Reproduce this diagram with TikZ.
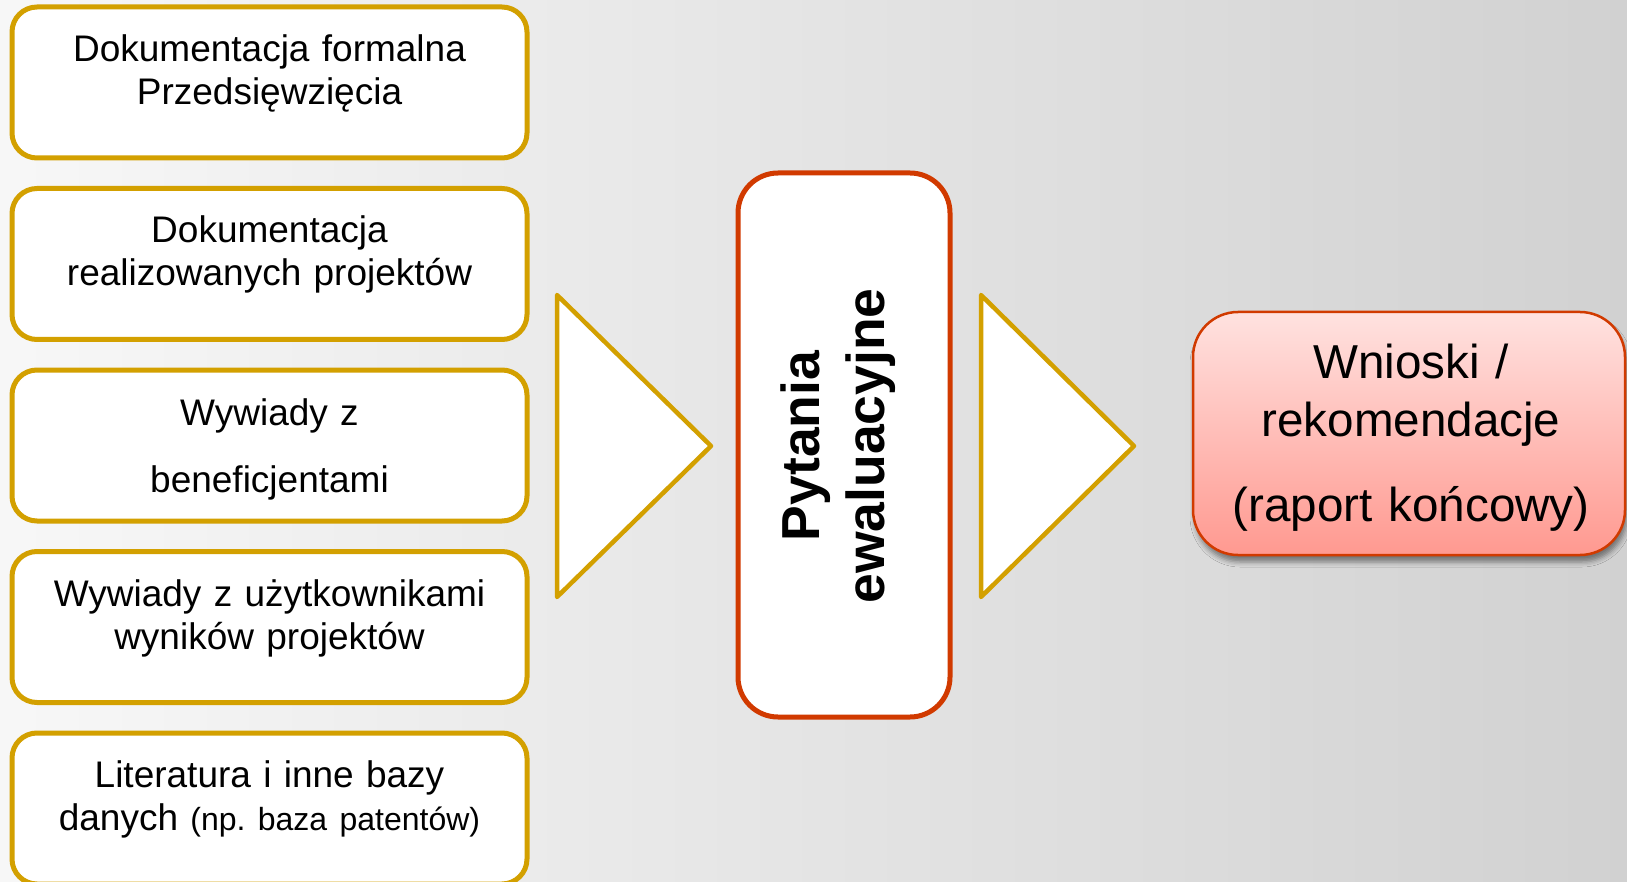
\documentclass[tikz,border=0pt]{standalone}
\usepackage{fontspec}
\setmainfont{Liberation Sans}
\frenchspacing
\usetikzlibrary{shadows.blur}
\definecolor{gold}{HTML}{D3A000}
\definecolor{redline}{HTML}{D13A00}
\definecolor{pinktop}{HTML}{FFE2E0}
\definecolor{pinkbot}{HTML}{FF9990}
\tikzset{
  srcbox/.style={draw=gold, line width=5pt, fill=white, rounded corners=25pt,
    minimum width=515pt, minimum height=151pt, inner sep=0pt},
  srctext/.style={text width=505pt, align=center, anchor=base, inner sep=0pt,
    font=\fontsize{37}{43}\selectfont},
  midbox/.style={draw=redline, line width=5pt, fill=white, rounded corners=40pt,
    minimum width=212pt, minimum height=544pt, inner sep=0pt},
  midtext/.style={text width=400pt, align=center, inner sep=0pt, rotate=90,
    font=\bfseries\fontsize{53.5}{65}\selectfont},
  arrowtri/.style={draw=gold, line width=4.5pt, fill=white, line join=round},
  outbox/.style={draw=redline, line width=2.5pt, top color=pinktop, bottom color=pinkbot,
    rounded corners=45pt, minimum width=432pt, minimum height=243pt, inner sep=0pt,
    blur shadow={shadow xshift=2pt, shadow yshift=-7pt, shadow blur radius=5pt, shadow opacity=45}},
  outtext/.style={text width=425pt, align=center, anchor=base, inner sep=0pt,
    font=\fontsize{47.6}{58}\selectfont}
}
\begin{document}
\begin{tikzpicture}[x=1pt,y=-1pt]
\useasboundingbox (0,0) rectangle (1627,882);
\shade[left color=black!3, right color=black!18] (0,0) rectangle (1627,882);

% source boxes
\node[srcbox] (b1) at (269.5,82.5) {};
\node[srcbox] (b2) at (269.5,264) {};
\node[srcbox] (b3) at (269.5,445.5) {};
\node[srcbox] (b4) at (269.5,627) {};
\node[srcbox] (b5) at (269.5,808.5) {};

\node[srctext] (t1) at (269.5,62) {Dokumentacja formalna\\Przedsięwzięcia};
\node[srctext] (t2) at (269.5,243) {Dokumentacja\\realizowanych projektów};
\node[srctext] (t3) at (269.5,425) {Wywiady z\\[24pt]beneficjentami};
\node[srctext] (t4) at (269.5,606) {Wywiady z użytkownikami\\wyników projektów};
\node[srctext] (t5) at (269.5,787) {Literatura i inne bazy\\danych {\fontsize{32}{43}\selectfont (np. baza patentów)}};

% triangles
\coordinate (a1t) at (557,295);
\coordinate (a1b) at (557,597);
\coordinate (a1p) at (711,446);
\draw[arrowtri] (a1t) -- (a1p) -- (a1b) -- cycle;

\coordinate (a2t) at (981,295);
\coordinate (a2b) at (981,597);
\coordinate (a2p) at (1134,446);
\draw[arrowtri] (a2t) -- (a2p) -- (a2b) -- cycle;

% middle box
\node[midbox] (mid) at (844,445) {};
\node[midtext] (midt) at (838,446) {Pytania\\ewaluacyjne};

% output box
\node[outbox] (out) at (1409,433.5) {};
\node[outtext] (outt) at (1411,378) {Wnioski /\\rekomendacje\\[27pt](raport końcowy)};
\end{tikzpicture}
\end{document}
